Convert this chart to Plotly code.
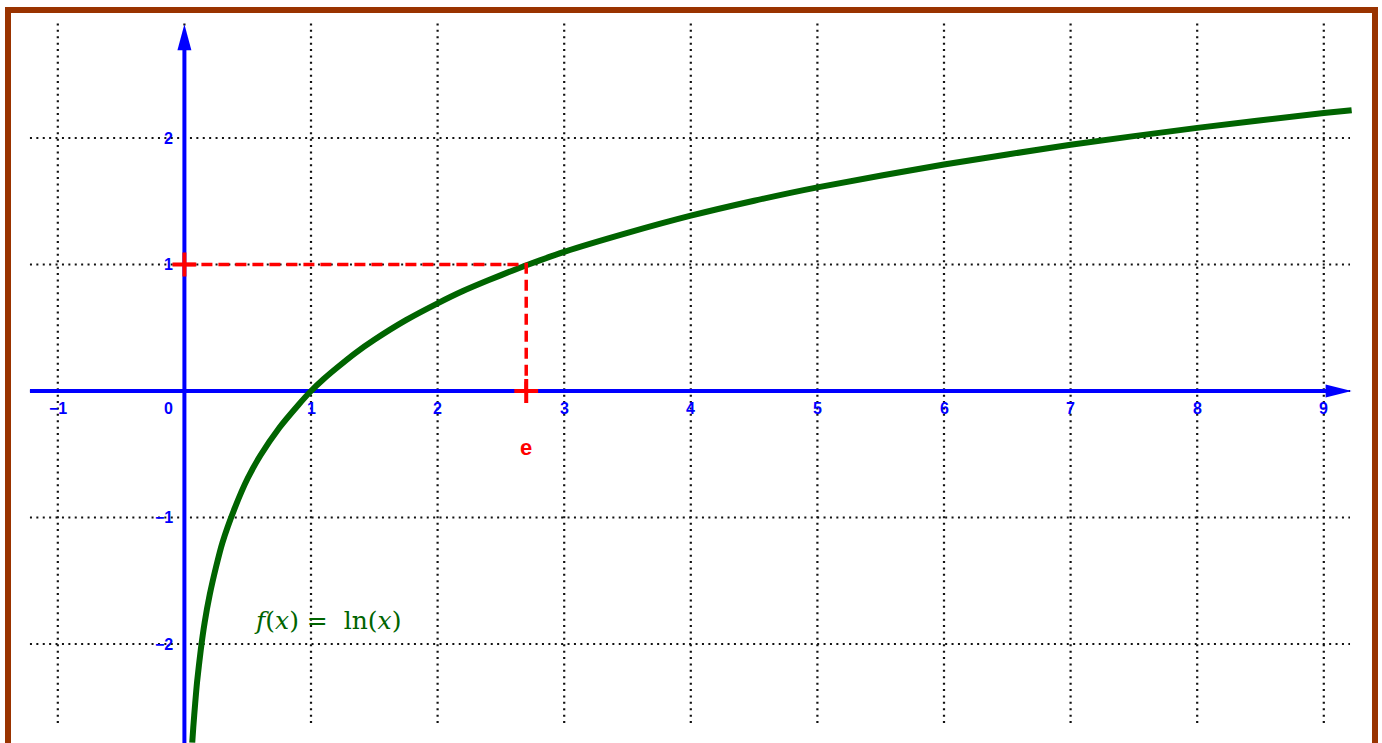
import plotly.graph_objects as go

# view window (data units) covered by the whole 1382x743 page
X_VIEW = [-1.4566, 9.4597]
Y_VIEW = [-2.7826, 3.0909]

# grid extent and tick values
GRID_X_SPAN = [-1.22, 9.207]
GRID_Y_SPAN = [-2.625, 2.917]
GRID_X = [-1, 0, 1, 2, 3, 4, 5, 6, 7, 8, 9]
GRID_Y = [-2, -1, 0, 1, 2]

X_TICKS = [-1, 1, 2, 3, 4, 5, 6, 7, 8, 9]
X_TICK_TEXT = ["\u22121", "1", "2", "3", "4", "5", "6", "7", "8", "9"]
Y_TICKS = [2, 1, -1, -2]
Y_TICK_TEXT = ["2", "1", "\u22121", "\u22122"]

# axis ends
X_AXIS_START, X_AXIS_TIP = -1.22, 9.22
Y_AXIS_START, Y_AXIS_TIP = -2.80, 2.90

# f(x) = ln(x)
CURVE_X = [0.062, 0.07, 0.085, 0.1, 0.13, 0.16, 0.2, 0.25, 0.3, 0.4, 0.5, 0.6, 0.75,
           0.9, 1.0, 1.1, 1.2, 1.35, 1.5, 1.75, 2.0, 2.2, 2.4, 2.6, 2.718, 3.0, 3.5,
           4.0, 4.5, 5.0, 6.0, 7.0, 8.0, 9.0, 9.22]
CURVE_Y = [-2.78, -2.66, -2.47, -2.30, -2.04, -1.83, -1.61, -1.39, -1.20, -0.92, -0.69,
           -0.51, -0.29, -0.11, 0.0, 0.095, 0.18, 0.30, 0.405, 0.56, 0.693, 0.79,
           0.875, 0.955, 1.0, 1.10, 1.25, 1.386, 1.504, 1.61, 1.79, 1.946, 2.08,
           2.197, 2.22]

# the point e as placed in the picture
E_VAL = 2.70
MARK_X = [0, E_VAL]
MARK_Y = [1, 0]

BLUE = "#0000FF"
GREEN = "#006400"
RED = "#FF0000"
BROWN = "#993300"

fig = go.Figure()

# dotted grid
gx, gy = [], []
for v in GRID_X:
    gx += [v, v, None]
    gy += [GRID_Y_SPAN[0], GRID_Y_SPAN[1], None]
for v in GRID_Y:
    gx += [GRID_X_SPAN[0], GRID_X_SPAN[1], None]
    gy += [v, v, None]
fig.add_trace(go.Scatter(x=gx, y=gy, mode="lines", hoverinfo="skip",
                         line=dict(color="#111111", width=2.2, dash="2px,4.4px")))

# axes
fig.add_trace(go.Scatter(x=[X_AXIS_START, X_AXIS_TIP - 0.08], y=[0, 0], mode="lines",
                         line=dict(color=BLUE, width=4), hoverinfo="skip"))
fig.add_trace(go.Scatter(x=[0, 0], y=[Y_AXIS_START, Y_AXIS_TIP - 0.08], mode="lines",
                         line=dict(color=BLUE, width=4), hoverinfo="skip"))

# curve
fig.add_trace(go.Scatter(x=CURVE_X, y=CURVE_Y, mode="lines",
                         line=dict(color=GREEN, width=6, shape="spline", smoothing=0.7),
                         name="f(x) = ln(x)"))

# red dashed guides
fig.add_trace(go.Scatter(x=[MARK_X[0], E_VAL, E_VAL], y=[MARK_Y[0], 1, MARK_Y[1]],
                         mode="lines", line=dict(color=RED, width=3.5, dash="11px,6px"),
                         hoverinfo="skip"))
fig.add_trace(go.Scatter(x=MARK_X, y=MARK_Y, mode="markers",
                         marker=dict(symbol="cross-thin", size=17,
                                     line=dict(color=RED, width=4)),
                         hoverinfo="skip"))

# arrowheads (pixel-sized, anchored at axis tips)
fig.add_shape(type="path", xref="x", yref="y", xsizemode="pixel", ysizemode="pixel",
              xanchor=X_AXIS_TIP, yanchor=0, path="M0,0 L-26,6.5 L-26,-6.5 Z",
              fillcolor=BLUE, line=dict(width=0))
fig.add_shape(type="path", xref="x", yref="y", xsizemode="pixel", ysizemode="pixel",
              xanchor=0, yanchor=Y_AXIS_TIP, path="M0,0 L-7,-26 L7,-26 Z",
              fillcolor=BLUE, line=dict(width=0))

tick_font = dict(family="Liberation Sans, Arial, sans-serif", size=16, color=BLUE, weight=700)
for v, t in zip(X_TICKS, X_TICK_TEXT):
    fig.add_annotation(x=v, y=0, text=t, showarrow=False, yshift=-17,
                       xanchor="center", yanchor="middle", font=tick_font)
fig.add_annotation(x=0, y=0, text="0", showarrow=False, yshift=-17, xshift=-9,
                   xanchor="right", yanchor="middle", font=tick_font)
for v, t in zip(Y_TICKS, Y_TICK_TEXT):
    fig.add_annotation(x=0, y=v, text=t, showarrow=False, xshift=-9,
                       xanchor="right", yanchor="middle", font=tick_font)

fig.add_annotation(x=E_VAL, y=0, text="e", showarrow=False, yshift=-56,
                   xanchor="center", yanchor="middle",
                   font=dict(family="Liberation Sans, Arial, sans-serif", size=22,
                             color=RED, weight=700))

fig.add_annotation(x=1.134, y=-1.818, text="<i>f</i>(<i>x</i>) = &nbsp;ln(<i>x</i>)",
                   showarrow=False, xanchor="center", yanchor="middle",
                   font=dict(family="DejaVu Serif, Liberation Serif, serif",
                             size=25, color=GREEN))

# frame
W, H = 1382, 743
fig.add_shape(type="rect", xref="paper", yref="paper",
              x0=8 / W, x1=1375 / W, y0=-0.05, y1=1 - 10 / H,
              line=dict(color=BROWN, width=6), fillcolor="rgba(0,0,0,0)")

fig.update_xaxes(range=X_VIEW, visible=False, fixedrange=True)
fig.update_yaxes(range=Y_VIEW, visible=False, fixedrange=True)
fig.update_layout(width=W, height=H, margin=dict(l=0, r=0, t=0, b=0),
                  paper_bgcolor="white", plot_bgcolor="white", showlegend=False)

# page body margin off so the figure sits at the window's top-left corner
fig.write_html("out.html", config={"displayModeBar": False},
               post_script="document.body.style.margin = '0';")
